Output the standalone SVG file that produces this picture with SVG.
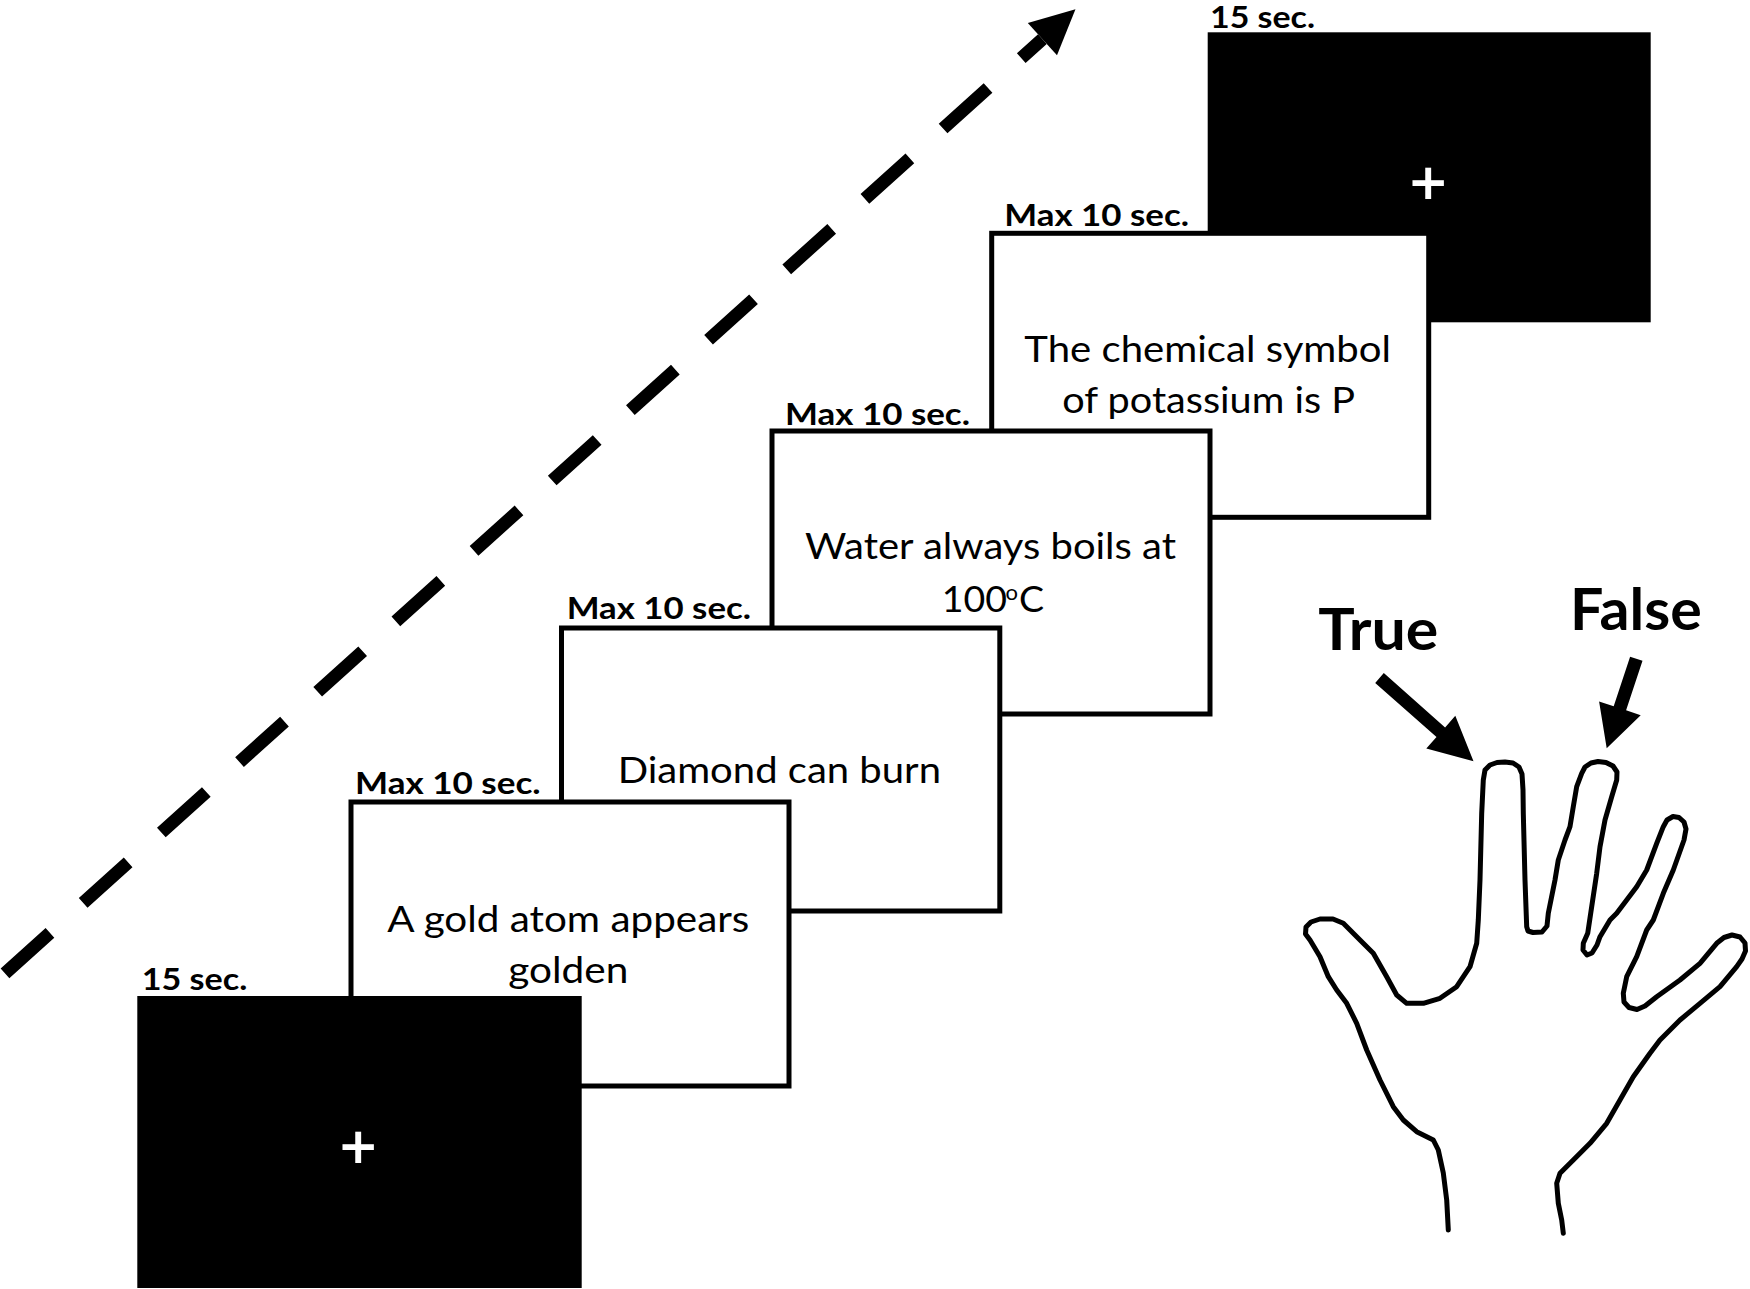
<svg xmlns="http://www.w3.org/2000/svg" width="1750" height="1289" viewBox="0 0 1750 1289">
<style>
.box{fill:#fff;stroke:#000;stroke-width:5}
.blk{fill:#000}
.lbl{font-family:Lato,"Liberation Sans",sans-serif;font-weight:700;font-size:30px;fill:#000}
.stim{font-family:Lato,"Liberation Sans",sans-serif;font-size:37.5px;fill:#000}
.fix{font-family:"DejaVu Sans",sans-serif;font-weight:700;font-size:50px;fill:#fff;text-anchor:middle}
.resp{font-family:Lato,"Liberation Sans",sans-serif;font-weight:700;font-size:58px;fill:#000}
.hand{fill:none;stroke:#000;stroke-width:5;stroke-linejoin:round;stroke-linecap:round}
.timeline{fill:none;stroke:#000;stroke-width:13;stroke-dasharray:60.5 44.7}
</style>
<defs>
<marker id="head" markerUnits="userSpaceOnUse" orient="auto" refX="0" refY="0" markerWidth="50" markerHeight="50" overflow="visible">
<path d="M0,-21.8 L44.5,0 L0,21.8 Z" fill="#000"/>
</marker>
</defs>
<rect width="1750" height="1289" fill="#fff"/>

<g id="connectors">
<path class="timeline" d="M5,973.3 L1042.4,39.1" marker-end="url(#head)"/>
<polygon id="arrow-true" points="1383.8,673.1 1445.1,727.4 1455.3,715.8 1473.5,761.2 1426.3,748.6 1436.5,737.1 1375.2,682.9" fill="#000"/>
<polygon id="arrow-false" points="1642.5,660.7 1626.1,710.3 1640.7,715.2 1606.7,748.3 1599.1,701.4 1613.7,706.3 1630.1,656.7" fill="#000"/>
</g>

<g id="fixation-end">
<rect class="blk" x="1207.7" y="32.3" width="443" height="290"/>
<text class="fix" x="1428.3" y="198.5">+</text>
<text class="lbl" x="1210" y="28.3" textLength="105" lengthAdjust="spacingAndGlyphs">15 sec.</text>
</g>

<g id="stimulus-4">
<rect class="box" x="991.7" y="233.3" width="437" height="284"/>
<text class="lbl" x="1004.3" y="226" textLength="184.7" lengthAdjust="spacingAndGlyphs">Max 10 sec.</text>
<text class="stim" x="1024.3" y="362.3" textLength="366.7" lengthAdjust="spacingAndGlyphs">The chemical symbol</text>
<text class="stim" x="1062.3" y="413.3" textLength="292.7" lengthAdjust="spacingAndGlyphs">of potassium is P</text>
</g>

<g id="stimulus-3">
<rect class="box" x="772" y="431" width="438" height="283"/>
<text class="lbl" x="785" y="425" textLength="185" lengthAdjust="spacingAndGlyphs">Max 10 sec.</text>
<text class="stim" x="805" y="559.3" textLength="371" lengthAdjust="spacingAndGlyphs">Water always boils at</text>
<text class="stim" x="941.7" y="611.7">100<tspan x="1005.5" dy="-11.7" font-size="22">o</tspan><tspan x="1019" dy="11.7">C</tspan></text>
</g>

<g id="stimulus-2">
<rect class="box" x="561.5" y="628" width="438.3" height="283"/>
<text class="lbl" x="566.7" y="619" textLength="184.3" lengthAdjust="spacingAndGlyphs">Max 10 sec.</text>
<text class="stim" x="617.7" y="783.3" textLength="323.3" lengthAdjust="spacingAndGlyphs">Diamond can burn</text>
</g>

<g id="stimulus-1">
<rect class="box" x="351" y="802" width="438" height="284"/>
<text class="lbl" x="355" y="794" textLength="185.7" lengthAdjust="spacingAndGlyphs">Max 10 sec.</text>
<text class="stim" x="387.3" y="931.7" textLength="362" lengthAdjust="spacingAndGlyphs">A gold atom appears</text>
<text class="stim" x="508.3" y="982.7" textLength="120" lengthAdjust="spacingAndGlyphs">golden</text>
</g>

<g id="fixation-start">
<rect class="blk" x="137.3" y="996" width="444.4" height="292"/>
<text class="fix" x="358.3" y="1162.8">+</text>
<text class="lbl" x="141.7" y="990" textLength="105.6" lengthAdjust="spacingAndGlyphs">15 sec.</text>
</g>

<g id="hand">
<path class="hand" d="M1448.3,1230 L1446.7,1200 L1443.3,1173 L1438.3,1150 L1433.3,1140 L1416.7,1131.7 L1403.3,1120 L1393.3,1106.7 L1380,1080 L1366.7,1050 L1356.7,1023.3 L1346.7,1003.3 L1336.7,990 L1328.3,976.7 L1320,956.7 L1310,940 L1305.5,934 L1306,927 L1311,922 L1320,919 L1333,919 L1343.3,923.3 L1360,940 L1373.3,953.3 L1386.7,976.7 L1396.7,995 L1406.7,1003.3 L1423.3,1003.3 L1440,998.3 L1456.7,986.7 L1470,966.7 L1476.7,943.3 L1478.3,920 L1480,880 L1481.7,813.3 L1483.3,780 L1485,770 L1490,765 L1497,762.5 L1505,762 L1513,763 L1519,767 L1522,774 L1523,790 L1523.3,813.3 L1525,880 L1526.7,926.7 L1528,931 L1533,932.5 L1542,932 L1547,926 L1548.3,913.3 L1555,880 L1558.3,860 L1565,840 L1570,826.7 L1573.3,806.7 L1576.7,786.7 L1581.7,773.3 L1585,767 L1591,763 L1598,761.5 L1606,762.5 L1613,766 L1617,772 L1616.7,780 L1611.7,796.7 L1605,820 L1600,846.7 L1596.7,873.3 L1591.7,906.7 L1587.7,933.3 L1583.3,943.3 L1583,950 L1587,955 L1592,953 L1597,945 L1600,936.7 L1610,920 L1616.7,913.3 L1626.7,900 L1636.7,886.7 L1646.7,870 L1656.7,843.3 L1663.3,826.7 L1667,820 L1673,816.5 L1679,817.5 L1684,822 L1686,829 L1684,840 L1673.3,870 L1663.3,893.3 L1653.3,920 L1646.7,930 L1636.7,956.7 L1626.7,976.7 L1623.3,993.3 L1624,1002 L1629,1007.5 L1637,1009.5 L1645,1006 L1656.7,996.7 L1680,980 L1700,963.3 L1716.7,943.3 L1724,937.5 L1732,935 L1740,937 L1745,943 L1745.5,951 L1742,959 L1736.7,966.7 L1720,986.7 L1700,1003.3 L1680,1020 L1660,1040 L1650,1053.3 L1633.3,1076.7 L1620,1100 L1606.7,1123.3 L1590,1143.3 L1573.3,1160 L1560,1173.3 L1556.7,1183.3 L1558.3,1203.3 L1561.7,1220 L1563.3,1233.3"/>
<text class="resp" x="1318.3" y="650" textLength="120" lengthAdjust="spacingAndGlyphs">True</text>
<text class="resp" x="1570" y="630" textLength="131.7" lengthAdjust="spacingAndGlyphs">False</text>
</g>
</svg>
